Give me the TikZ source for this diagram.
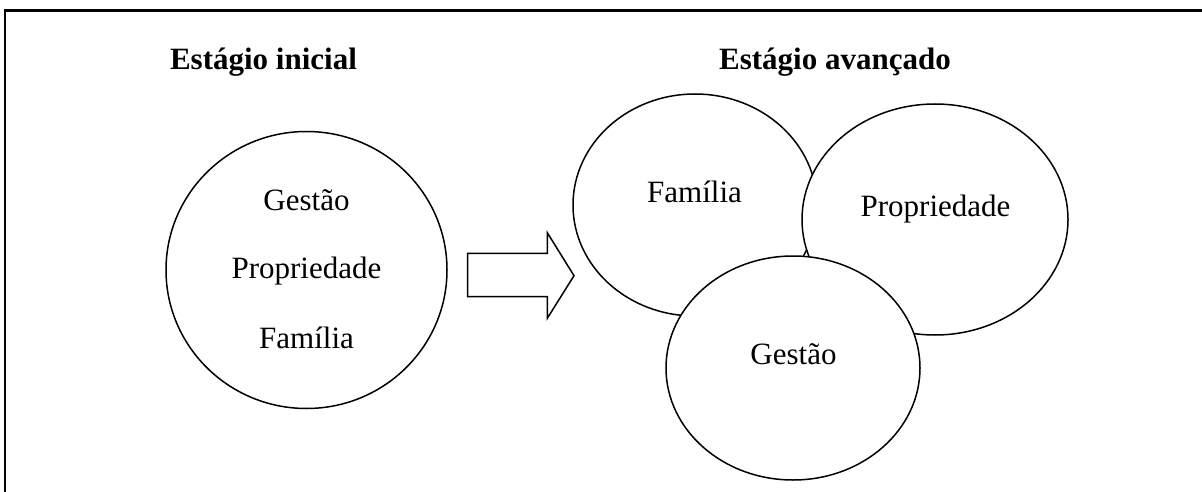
\documentclass[tikz,border=0pt]{standalone}
\usepackage{fontspec}
\setmainfont{Liberation Serif}
\usetikzlibrary{shapes.geometric}
\begin{document}
\begin{tikzpicture}[x=1pt,y=-1pt,
  ring/.style={draw, ellipse, line width=1.5pt, fill=white, inner sep=0pt},
  lbl/.style={anchor=base, inner sep=0pt, font=\fontsize{31}{37}\selectfont},
  ttl/.style={anchor=base, inner sep=0pt, font=\fontsize{31}{37}\selectfont\bfseries},
  blockarrow/.style={draw, line width=1.5pt, line join=miter, fill=white}]
\useasboundingbox (0,0) rectangle (1202,492);
% frame (top and left edges visible)
\coordinate (fbl) at (5,492);
\coordinate (ftl) at (5,10.5);
\coordinate (ftr) at (1202,10.5);
\draw[line width=2.6pt] (fbl) -- (ftl) -- (ftr);

% titles
\node[ttl] (t1) at (263.5,70) {Estágio inicial};
\node[ttl] (t2) at (835,70) {Estágio avançado};

% initial stage
\node[ring, minimum width=281pt, minimum height=277pt] (c0) at (306.5,270) {};
\node[lbl] (g0) at (306.5,210) {Gestão};
\node[lbl] (p0) at (306.5,278) {Propriedade};
\node[lbl] (f0) at (306.5,348) {Família};

% block arrow
\draw[blockarrow] (467.7,253.3) -- (547.3,253.3) -- (547.3,232.7) -- (574,275.7)
  -- (547.3,318.3) -- (547.3,296.7) -- (467.7,296.7) -- cycle;

% advanced stage
\node[ring, minimum width=244pt, minimum height=222pt] (cf) at (695,205) {};
\node[ring, minimum width=266pt, minimum height=231pt] (cp) at (935,219.5) {};
\node[ring, minimum width=254pt, minimum height=224pt] (cg) at (793,368) {};
\node[lbl] (f1) at (694.5,202) {Família};
\node[lbl] (p1) at (935.5,216.7) {Propriedade};
\node[lbl] (g1) at (793.5,364) {Gestão};
\end{tikzpicture}
\end{document}
